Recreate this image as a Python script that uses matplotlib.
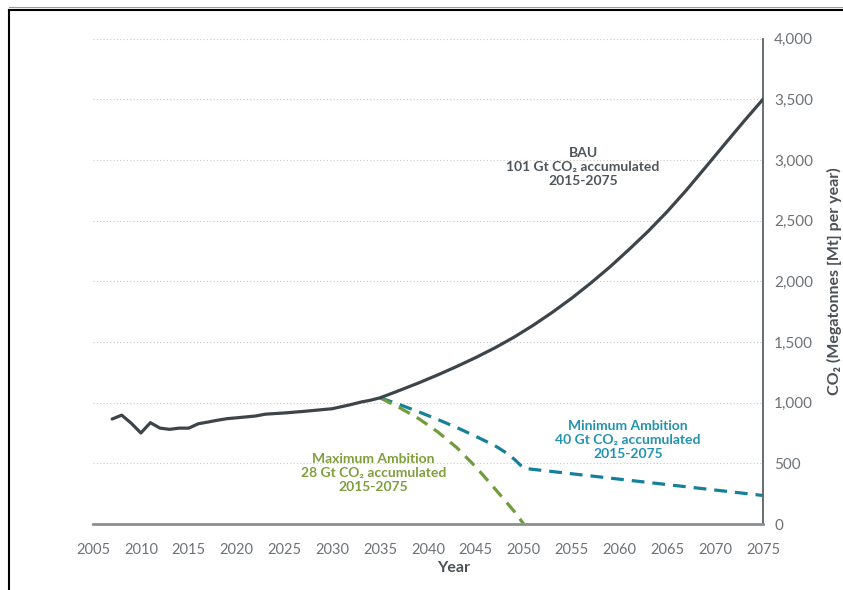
import matplotlib
matplotlib.use("Agg")
import matplotlib.pyplot as plt
from matplotlib.lines import Line2D

plt.rcParams['font.family'] = ['Lato', 'DejaVu Sans']

# BAU emissions (Mt CO2 per year)
bau_years = [2007, 2008, 2009, 2010, 2011, 2012, 2013, 2014, 2015, 2016, 2017, 2018,
             2019, 2020, 2022, 2023, 2025, 2027, 2030, 2032, 2033, 2034, 2035,
             2037, 2039, 2041, 2043, 2045, 2047, 2049, 2051, 2053, 2055, 2057,
             2059, 2061, 2063, 2065, 2067, 2069, 2071, 2073, 2075]
bau_vals = [865, 897, 830, 750, 835, 790, 780, 790, 790, 826, 840, 855,
            868, 875, 890, 905, 915, 928, 950, 985, 1005, 1020, 1040,
            1100, 1162, 1228, 1298, 1372, 1452, 1540, 1638, 1745, 1860, 1985,
            2118, 2262, 2412, 2575, 2752, 2940, 3130, 3318, 3500]

# Minimum ambition
min_years = [2035, 2037, 2039, 2041, 2043, 2045, 2047, 2048, 2049, 2050, 2075]
min_vals = [1040, 985, 925, 862, 795, 722, 645, 595, 535, 459, 235]

# Maximum ambition
max_years = [2035, 2037, 2039, 2041, 2043, 2045, 2047, 2049, 2050]
max_vals = [1040, 960, 870, 760, 630, 470, 290, 105, 0]

x_ticks = list(range(2005, 2080, 5))
y_ticks = list(range(0, 4500, 500))

bau_col = '#3d454b'
teal_line = '#16809a'
teal_text = '#2393b0'
green_line = '#6f9c3c'
green_text = '#7e9f3c'
tick_col = '#6e7276'

fig = plt.figure(figsize=(8.43, 5.90), dpi=100)
ax = fig.add_axes([93 / 843, 1 - 524 / 590, (763 - 93) / 843, (524 - 38.6) / 590])

for y in y_ticks[1:]:
    ax.axhline(y, color='#c9c9c9', lw=0.8, ls=(0, (1, 2)), zorder=0)

ax.plot(bau_years, bau_vals, color=bau_col, lw=2.3, solid_capstyle='round', zorder=3)
ax.plot(min_years, min_vals, color=teal_line, lw=2.3, ls=(0, (4, 2.5)), zorder=2)
ax.plot(max_years, max_vals, color=green_line, lw=2.3, ls=(0, (4, 2.5)), zorder=2)

ax.set_xlim(2005, 2075)
ax.set_ylim(0, 4000)
ax.set_xticks(x_ticks)
ax.set_yticks(y_ticks)
ax.set_yticklabels(['{:,}'.format(v) for v in y_ticks])
ax.yaxis.tick_right()
ax.tick_params(axis='y', length=0, pad=8, labelsize=11, labelcolor=tick_col)
ax.tick_params(axis='x', length=0, pad=14, labelsize=10.5, labelcolor=tick_col)

for s in ['left', 'top']:
    ax.spines[s].set_visible(False)
ax.spines['right'].set_color('#5a6166')
ax.spines['right'].set_linewidth(1.3)
ax.spines['bottom'].set_color('#8c8f92')
ax.spines['bottom'].set_linewidth(2)

ax.yaxis.set_label_position('right')
ax.set_ylabel('CO₂ (Megatonnes [Mt] per year)', fontsize=11.5, fontweight='bold',
              color='#4a5055', labelpad=10)

fig.text(454 / 843, 1 - 568 / 590, 'Year', ha='center', va='center',
         fontsize=11.5, fontweight='bold', color='#4a5055')

ax.text(2056.2, 2940, 'BAU\n101 Gt CO₂ accumulated\n2015-2075', ha='center', va='center',
        fontsize=10, fontweight='bold', color='#4e565c', linespacing=1.2)
ax.text(2060.9, 692, 'Minimum Ambition\n40 Gt CO₂ accumulated\n2015-2075', ha='center',
        va='center', fontsize=10, fontweight='bold', color=teal_text, linespacing=1.2)
ax.text(2034.3, 420, 'Maximum Ambition\n28 Gt CO₂ accumulated\n2015-2075', ha='center',
        va='center', fontsize=10, fontweight='bold', color=green_text, linespacing=1.2)

# outer frame (only left and top edges visible)
fig.add_artist(Line2D([9 / 843, 1], [1 - 7 / 590, 1 - 7 / 590], color='#9a9a9a', lw=0.8,
                      transform=fig.transFigure))
fig.add_artist(Line2D([9 / 843, 1], [1 - 10 / 590, 1 - 10 / 590], color='black', lw=1.5,
                      transform=fig.transFigure))
fig.add_artist(Line2D([9 / 843, 9 / 843], [0, 1 - 10 / 590], color='black', lw=1.5,
                      transform=fig.transFigure))

fig.savefig('out.png', dpi=100)
